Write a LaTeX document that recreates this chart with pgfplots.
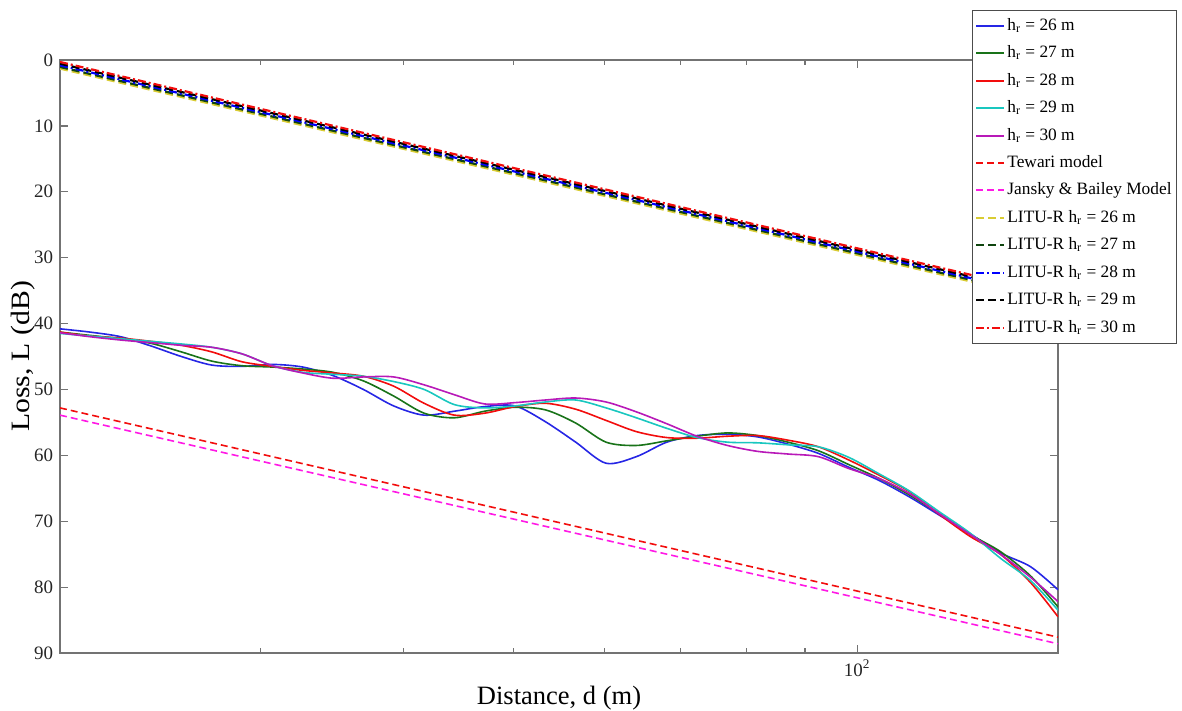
\documentclass[border=0pt]{standalone}
\usepackage{fontspec}
\setmainfont{Liberation Serif}
\usepackage{pgfplots}
\pgfplotsset{compat=1.18}
\definecolor{cBlue}{rgb}{0.15,0.15,0.9}
\definecolor{cGreen}{rgb}{0.1,0.45,0.1}
\definecolor{cRed}{rgb}{0.95,0.05,0.05}
\definecolor{cCyan}{rgb}{0.1,0.78,0.75}
\definecolor{cMag}{rgb}{0.72,0.1,0.72}
\definecolor{cYel}{rgb}{0.85,0.8,0.2}
\definecolor{cPink}{rgb}{1,0.1,0.9}
\begin{document}
\begin{tikzpicture}
\useasboundingbox (-30bp,-29bp) rectangle (561bp,326.5bp);
\begin{axis}[
  at={(0,0)}, anchor=south west,
  scale only axis, width=499bp, height=296.5bp,
  xmode=log, xmin=20, xmax=150,
  ymin=0, ymax=90, y dir=reverse,
  ytick={0,10,...,90},
  xtick={100}, xticklabels={10\textsuperscript{2}},
  minor xtick={20,30,40,50,60,70,80,90},
  tick align=inside,
  major tick length=4bp, minor tick length=2.5bp,
  axis line style={black!55, line width=0.8bp},
  every tick/.style={black!55, line width=0.6bp},
  /pgf/number format/assume math mode=true,
  tick label style={font=\fontsize{9.5}{11}\selectfont, text=black!85},
  xlabel={Distance, d (m)}, ylabel={Loss, L (dB)},
  label style={font=\fontsize{13.3}{15}\selectfont},
  xlabel style={yshift=2bp},
  ylabel style={yshift=-7.5bp, xscale=1.12},
  legend style={at={(0.9138,1.0843)}, anchor=north west, draw=black!70, fill=white,
    font=\fontsize{8.7}{10}\selectfont, inner xsep=1.5bp, inner ysep=3bp, row sep=4.2bp,
    nodes={inner sep=1bp}},
  legend cell align=left,
  legend image code/.code={\draw[line width=1bp, #1] (0bp,0bp) -- (14bp,0bp);},
  every axis plot/.append style={line width=0.8bp},
]
% measured, h_r = 26 m
\addplot[cBlue, smooth] coordinates {
(20,40.8)(21.26,41.3)(22.61,42.0)(24.03,43.4)(25.55,45.0)(27.17,46.3)(28.88,46.5)(30.71,46.2)
(32.65,46.6)(34.71,47.9)(36.90,50.0)(39.23,52.5)(41.71,53.9)(44.34,53.3)(47.14,52.6)(50.12,52.5)
(53.29,54.9)(56.65,58.0)(60.23,61.2)(64.03,60.2)(68.08,58.0)(72.37,57.0)(76.95,56.8)(81.80,57.2)
(86.97,58.3)(92.46,59.7)(98.30,61.8)(104.5,63.8)(111.1,66.3)(118.1,69.1)(125.6,71.9)(133.5,74.8)
(141.9,76.9)(150,80.4)};
% 27 m
\addplot[cGreen, smooth] coordinates {
(20,41.3)(21.26,41.8)(22.61,42.3)(24.03,43.0)(25.55,44.3)(27.17,45.7)(28.88,46.4)(30.71,46.6)
(32.65,46.9)(34.71,47.4)(36.90,48.7)(39.23,51.0)(41.71,53.6)(44.34,54.3)(47.14,53.3)(50.12,52.7)
(53.29,53.1)(56.65,55.1)(60.23,58.0)(64.03,58.5)(68.08,57.8)(72.37,57.1)(76.95,56.6)(81.80,57.0)
(86.97,58.0)(92.46,59.3)(98.30,61.4)(104.5,63.5)(111.1,66.0)(118.1,68.9)(125.6,72.0)(133.5,74.6)
(141.9,78.3)(150,83.0)};
% 28 m
\addplot[cRed, smooth] coordinates {
(20,41.3)(21.26,41.9)(22.61,42.2)(24.03,42.7)(25.55,43.3)(27.17,44.3)(28.88,45.8)(30.71,46.5)
(32.65,47.1)(34.71,47.5)(36.90,48.0)(39.23,49.5)(41.71,52.1)(44.34,53.9)(47.14,53.6)(50.12,52.6)
(53.29,52.1)(56.65,53.0)(60.23,54.7)(64.03,56.4)(68.08,57.3)(72.37,57.4)(76.95,57.1)(81.80,57.0)
(86.97,57.7)(92.46,58.7)(98.30,60.7)(104.5,63.0)(111.1,65.5)(118.1,69.0)(125.6,72.3)(133.5,75.0)
(141.9,79.3)(150,84.5)};
% 29 m
\addplot[cCyan, smooth] coordinates {
(20,41.5)(21.26,41.9)(22.61,42.3)(24.03,42.7)(25.55,43.1)(27.17,43.6)(28.88,44.6)(30.71,46.4)
(32.65,47.4)(34.71,47.7)(36.90,48.0)(39.23,48.8)(41.71,50.0)(44.34,52.3)(47.14,52.8)(50.12,52.5)
(53.29,51.9)(56.65,51.6)(60.23,52.8)(64.03,54.3)(68.08,55.9)(72.37,57.3)(76.95,58.0)(81.80,58.1)
(86.97,58.4)(92.46,58.7)(98.30,60.3)(104.5,62.8)(111.1,65.4)(118.1,68.6)(125.6,71.8)(133.5,75.6)
(141.9,79.0)(150,83.5)};
% 30 m
\addplot[cMag, smooth] coordinates {
(20,41.4)(21.26,42.0)(22.61,42.5)(24.03,42.9)(25.55,43.3)(27.17,43.6)(28.88,44.6)(30.71,46.4)
(32.65,47.5)(34.71,48.3)(36.90,48.1)(39.23,48.1)(41.71,49.3)(44.34,50.8)(47.14,52.2)(50.12,52.0)
(53.29,51.6)(56.65,51.3)(60.23,51.9)(64.03,53.4)(68.08,55.2)(72.37,57.1)(76.95,58.5)(81.80,59.4)
(86.97,59.8)(92.46,60.2)(98.30,62.0)(104.5,63.5)(111.1,65.8)(118.1,68.9)(125.6,72.0)(133.5,75.0)
(141.9,78.5)(150,82.2)};
% Tewari
\addplot[cRed, dash pattern=on 3.5bp off 2bp] coordinates {(20,52.8)(150,87.6)};
% Jansky & Bailey
\addplot[cPink, dash pattern=on 3.5bp off 2bp] coordinates {(20,53.9)(150,88.6)};
% LITU-R
\addplot[cYel, line width=1.1bp, dash pattern=on 4bp off 2bp] coordinates {(20,1.3)(150,36.7)};
\addplot[cGreen!60!black, line width=1.1bp, dash pattern=on 4bp off 2bp] coordinates {(20,1.05)(150,36.45)};
\addplot[blue, line width=1.1bp, dash pattern=on 4bp off 1.5bp on 1bp off 1.5bp] coordinates {(20,0.8)(150,36.2)};
\addplot[black, line width=1.1bp, dash pattern=on 4bp off 2bp] coordinates {(20,0.55)(150,35.95)};
\addplot[cRed, line width=1.1bp, dash pattern=on 4bp off 1.5bp on 1bp off 1.5bp] coordinates {(20,0.3)(150,35.7)};
\legend{h\textsubscript{r} = 26 m, h\textsubscript{r} = 27 m, h\textsubscript{r} = 28 m,
  h\textsubscript{r} = 29 m, h\textsubscript{r} = 30 m, Tewari model, Jansky \& Bailey Model,
  LITU-R h\textsubscript{r} = 26 m, LITU-R h\textsubscript{r} = 27 m, LITU-R h\textsubscript{r} = 28 m,
  LITU-R h\textsubscript{r} = 29 m, LITU-R h\textsubscript{r} = 30 m}
\end{axis}
\end{tikzpicture}
\end{document}
